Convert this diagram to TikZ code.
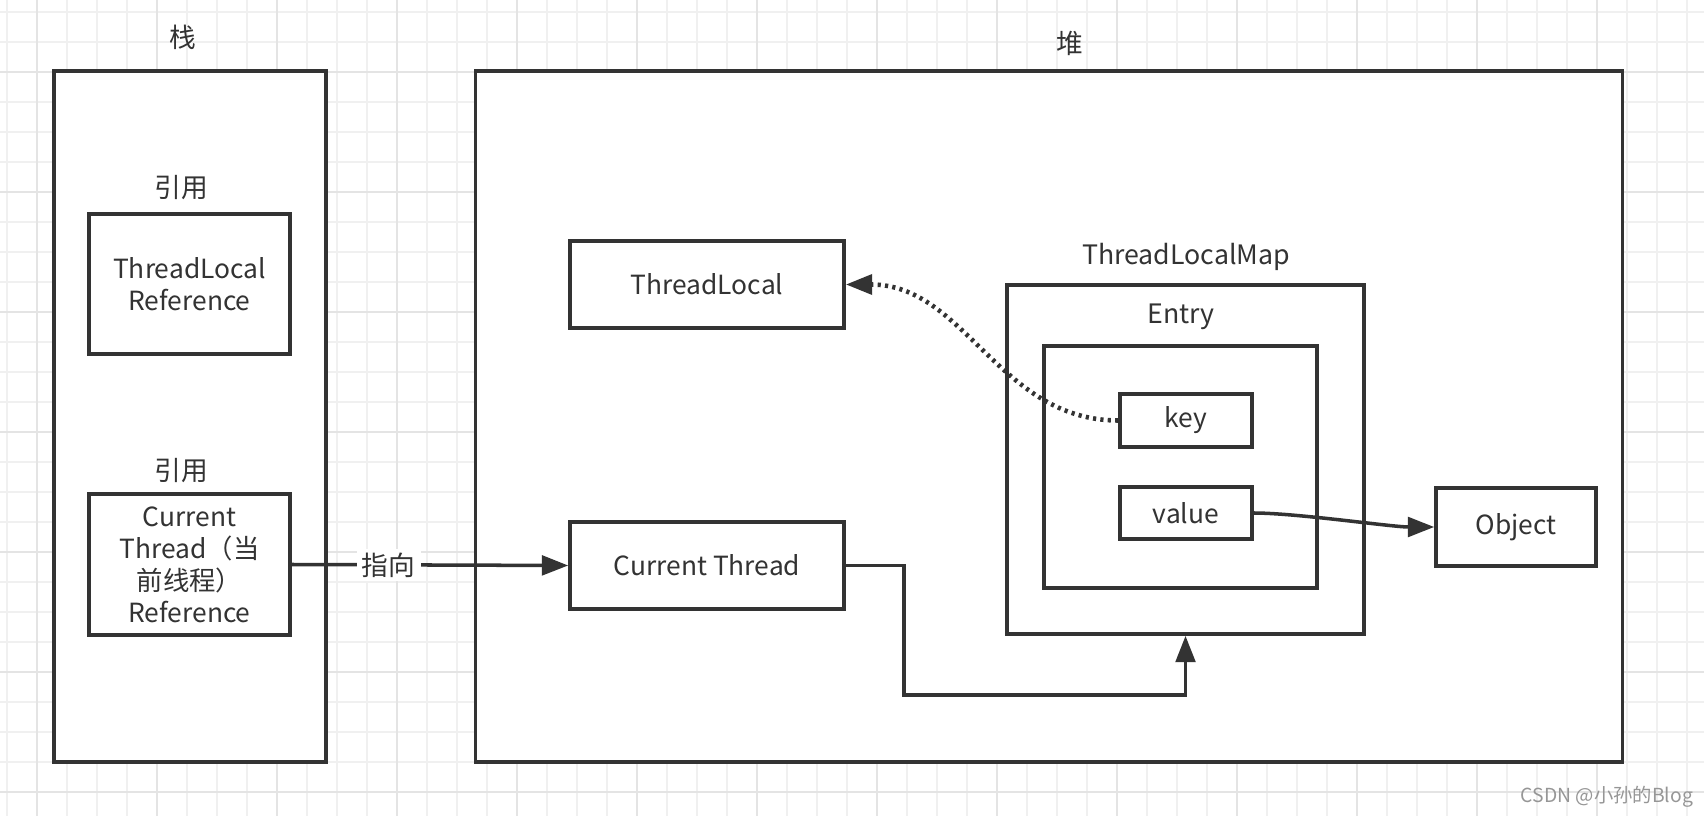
\documentclass[tikz,border=0pt]{standalone}
\usepackage{fontspec}
\setmainfont{Noto Sans CJK SC}
\usetikzlibrary{arrows.meta}
\definecolor{drawgray}{RGB}{51,51,51}
\definecolor{gridlight}{RGB}{240,240,240}
\definecolor{gridmid}{RGB}{228,228,228}
\definecolor{markgray}{RGB}{150,150,150}
\tikzset{
  box/.style={draw=drawgray, line width=1pt, fill=white, text=drawgray, align=center,
    inner sep=0pt, font=\fontsize{7.5}{9.1}\selectfont},
  lbl/.style={text=drawgray, inner sep=0pt, font=\fontsize{7.6}{9.1}\selectfont},
  conn/.style={draw=drawgray, line width=1pt, -{Triangle[length=7.5pt,width=5.6pt]}},
}

\begin{document}
\begin{tikzpicture}[x=0.01cm,y=-0.01cm]
  \useasboundingbox (0,0) rectangle (1704,816);
  \fill[white] (0,0) rectangle (1704,816);

  \foreach \gx in {7,37,...,1704} {
    \draw[gridlight, line width=0.35pt] (\gx,0) -- (\gx,816);
  }
  \foreach \gy in {12,42,...,816} {
    \draw[gridlight, line width=0.35pt] (0,\gy) -- (1704,\gy);
  }
  \foreach \gx in {37,157,...,1704} {
    \draw[gridmid, line width=0.35pt] (\gx,0) -- (\gx,816);
  }
  \foreach \gy in {72,192,...,816} {
    \draw[gridmid, line width=0.35pt] (0,\gy) -- (1704,\gy);
  }

  \node[box, minimum width=2.72cm, minimum height=6.91cm] (stack) at (190,416.5) {};
  \node[box, minimum width=11.46cm, minimum height=6.91cm] (heap) at (1049,416.5) {};
  \node[lbl] (stacklbl) at (183,37) {栈};
  \node[lbl] (heaplbl) at (1070,43) {堆};

  \node[lbl] (ref1) at (181,188) {引用};
  \node[box, minimum width=2.01cm, minimum height=1.40cm] (tlref) at (189.5,284) {ThreadLocal\\Reference};
  \node[lbl] (ref2) at (181,471) {引用};
  \node[box, minimum width=2.01cm, minimum height=1.41cm] (ctref) at (189.5,564.5) {Current\\Thread（当\\前线程）\\Reference};

  \node[box, minimum width=2.74cm, minimum height=0.87cm] (tl) at (707,284.5) {ThreadLocal};
  \node[box, minimum width=2.74cm, minimum height=0.87cm] (ct) at (707,565.5) {Current Thread};

  \node[lbl] (maplbl) at (1186,257) {ThreadLocalMap};
  \node[box, minimum width=3.57cm, minimum height=3.49cm] (map) at (1185.5,459.5) {};
  \node[lbl] (entrylbl) at (1181,317) {Entry};
  \node[box, minimum width=2.73cm, minimum height=2.42cm] (entry) at (1180.5,467) {};
  \node[box, minimum width=1.32cm, minimum height=0.53cm] (key) at (1186,420.5) {key};
  \node[box, minimum width=1.32cm, minimum height=0.52cm] (value) at (1186,513) {value};
  \node[box, minimum width=1.60cm, minimum height=0.78cm] (obj) at (1516,527) {Object};

  \draw[conn] (ctref.east) -- node[lbl, fill=white, inner xsep=1.5pt, inner ysep=1pt, pos=0.35] (pointlbl) {指向} (ct.west);
  \coordinate (bend) at (904,695);
  \draw[conn] (ct.east) -| (bend) -| (map.south);
  \draw[conn, line width=1.3pt, dash pattern=on 0.9pt off 1.2pt] (key.west) to[out=180, in=0] (tl.east);
  \draw[conn] (value.east) to[out=0, in=180, looseness=0.6] (obj.west);

  \node[text=markgray, inner sep=0pt, font=\fontsize{5.5}{6}\selectfont] (mark) at (1607,797) {CSDN @小孙的Blog};
\end{tikzpicture}
\end{document}
